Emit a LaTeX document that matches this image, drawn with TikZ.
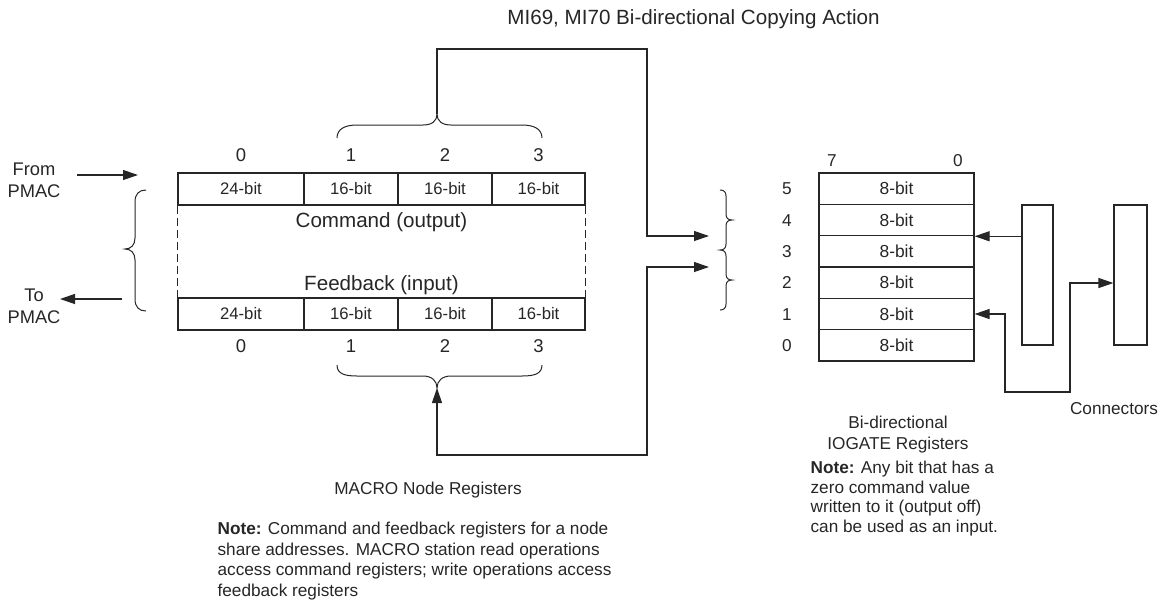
\documentclass[tikz,border=0pt]{standalone}
\usepackage{fontspec}
\setmainfont{Liberation Sans}
\usetikzlibrary{arrows.meta}
\definecolor{ink}{RGB}{38,38,38}
\begin{document}
\begin{tikzpicture}[x=1pt,y=-1pt,color=ink,line width=1.2pt,
  lbl/.style={inner sep=0pt,anchor=base},
  ttl/.style={lbl,font=\fontsize{20.6}{24}\selectfont},
  num/.style={lbl,font=\fontsize{18.5}{22}\selectfont},
  sml/.style={lbl,font=\fontsize{17.2}{20.7}\selectfont},
  cell/.style={draw,rectangle,minimum height=32pt,inner sep=0pt,font=\fontsize{16.7}{20}\selectfont},
  iorow/.style={draw,rectangle,minimum width=155pt,minimum height=31.33pt,inner sep=0pt,font=\fontsize{17.4}{20}\selectfont},
  conbox/.style={draw,rectangle,minimum height=140pt,inner sep=0pt},
  arr/.style={-{Triangle[length=15pt,width=10pt]}},
  arrboth/.style={{Triangle[length=15pt,width=10pt]}-{Triangle[length=15pt,width=10pt]}},
  brc/.style={line width=1pt}]
\useasboundingbox (0,0) rectangle (1164,603);

% title
\node[ttl] (title) at (693.5,24.4) {MI69, MI70 Bi-directional Copying Action};

% command register
\node[cell,minimum width=126pt] (c0) at (241,189) {24-bit};
\node[cell,minimum width=94pt] (c1) at (351,189) {16-bit};
\node[cell,minimum width=94pt] (c2) at (445,189) {16-bit};
\node[cell,minimum width=93pt] (c3) at (538.5,189) {16-bit};
% feedback register
\node[cell,minimum width=126pt] (f0) at (241,314) {24-bit};
\node[cell,minimum width=94pt] (f1) at (351,314) {16-bit};
\node[cell,minimum width=94pt] (f2) at (445,314) {16-bit};
\node[cell,minimum width=93pt] (f3) at (538.5,314) {16-bit};
\draw[dash pattern=on 8pt off 4pt] (c0.south west) -- (f0.north west);
\draw[dash pattern=on 8pt off 4pt] (c3.south east) -- (f3.north east);
\node[ttl] (cmd) at (381.5,227.4) {Command (output)};
\node[ttl] (fbk) at (381.5,290.4) {Feedback (input)};

% register numbers
\node[num] (tn0) at (241,161.6) {0};
\node[num] (tn1) at (351,161.6) {1};
\node[num] (tn2) at (445,161.6) {2};
\node[num] (tn3) at (538.5,161.6) {3};
\node[num] (bn0) at (241,352.6) {0};
\node[num] (bn1) at (351,352.6) {1};
\node[num] (bn2) at (445,352.6) {2};
\node[num] (bn3) at (538.5,352.6) {3};

% braces over / under cells 1-3
\coordinate (ttip) at (437,114);
\coordinate (btip) at (437,388);
\draw[brc] (337,138) .. controls (337,129) and (345,125) .. (357,125) -- (423,125)
  .. controls (432,125) and (437,121) .. (ttip) .. controls (437,121) and (442,125) .. (451,125)
  -- (522,125) .. controls (534,125) and (542,129) .. (542,138);
\draw[brc] (337,365) .. controls (337,374) and (345,376) .. (357,376) -- (423,376)
  .. controls (432,376) and (437,381) .. (btip) .. controls (437,381) and (442,376) .. (451,376)
  -- (522,376) .. controls (534,376) and (542,374) .. (542,365);

% left brace
\draw[brc] (146,190) .. controls (139,190) and (135,194) .. (135,202) -- (135,238)
  .. controls (135,245) and (131,249) .. (125,249) .. controls (131,249) and (135,253) .. (135,260)
  -- (135,299) .. controls (135,307) and (139,311) .. (146,311);

% From / To PMAC
\node[inner sep=0pt,align=center,font=\fontsize{18.3}{22.5}\selectfont] (from) at (34,180.3) {From\\PMAC};
\node[inner sep=0pt,align=center,font=\fontsize{18.3}{22}\selectfont] (to) at (34,306.5) {To\\PMAC};
\coordinate (fromS) at (77,175);
\coordinate (fromE) at (138,175);
\coordinate (toS) at (122,299);
\coordinate (toE) at (60,299);
\draw[arr] (fromS) -- (fromE);
\draw[arr] (toS) -- (toE);

% right double brace
\draw[brc] (720,190) .. controls (724,190) and (726,192) .. (726,196) -- (726,214)
  .. controls (726,218) and (728,220) .. (732,220) .. controls (728,220) and (726,222) .. (726,226)
  -- (726,244) .. controls (726,248) and (724,250) .. (720,250)
  .. controls (724,250) and (726,252) .. (726,256) -- (726,274)
  .. controls (726,278) and (728,280) .. (732,280) .. controls (728,280) and (726,282) .. (726,286)
  -- (726,304) .. controls (726,308) and (724,310) .. (720,310);

% routes
\coordinate (inA) at (709,236);
\coordinate (inB) at (709,267);
\coordinate (topR) at (647,49);
\coordinate (botR) at (647,455);
\draw[arr] (ttip) |- (topR) |- (inA);
\draw[arrboth] (inB) -| (botR) -| (btip);

% IOGATE registers
\node[iorow] (r5) at (896.5,188.67) {8-bit};
\node[iorow] (r4) at (896.5,220) {8-bit};
\node[iorow] (r3) at (896.5,251.33) {8-bit};
\node[iorow] (r2) at (896.5,282.67) {8-bit};
\node[iorow] (r1) at (896.5,314) {8-bit};
\node[iorow] (r0) at (896.5,345.33) {8-bit};
\node[sml] (l5) at (787,194.87) {5};
\node[sml] (l4) at (787,226.2) {4};
\node[sml] (l3) at (787,257.53) {3};
\node[sml] (l2) at (787,288.87) {2};
\node[sml] (l1) at (787,320.2) {1};
\node[sml] (l0) at (787,351.53) {0};
\node[sml] (b7) at (832,166.2) {7};
\node[sml] (b0) at (958,166.2) {0};

% connectors
\node[conbox,minimum width=31pt] (k1) at (1037.5,275) {};
\node[conbox,minimum width=33pt] (k2) at (1130.5,275) {};
\coordinate (kA) at (1005,392);
\coordinate (kB) at (1070,283);
\draw[arr] (k1.west |- r4.south) -- (r4.south east);
\draw[arrboth] (r1.east) -| (kA) -| (kB) -- (k2.west |- kB);

% captions and notes
\node[sml] (conn) at (1114,414.2) {Connectors};
\node[inner sep=0pt,anchor=north,align=center,font=\fontsize{17.2}{21}\selectfont] (iocap) at (898,415.6) {Bi-directional\\IOGATE Registers};
\node[sml] (mcap) at (428,494.2) {MACRO Node Registers};
\node[inner sep=0pt,anchor=north west,align=left,font=\fontsize{17.2}{20.7}\selectfont] (noteL) at (217,521.4)
  {\textbf{Note:} Command and feedback registers for a node\\share addresses. MACRO station read operations\\access command registers; write operations access\\feedback registers};
\node[inner sep=0pt,anchor=north west,align=left,font=\fontsize{17.2}{19.7}\selectfont] (noteR) at (810,460.4)
  {\textbf{Note:} Any bit that has a\\zero command value\\written to it (output off)\\can be used as an input.};
\end{tikzpicture}
\end{document}
